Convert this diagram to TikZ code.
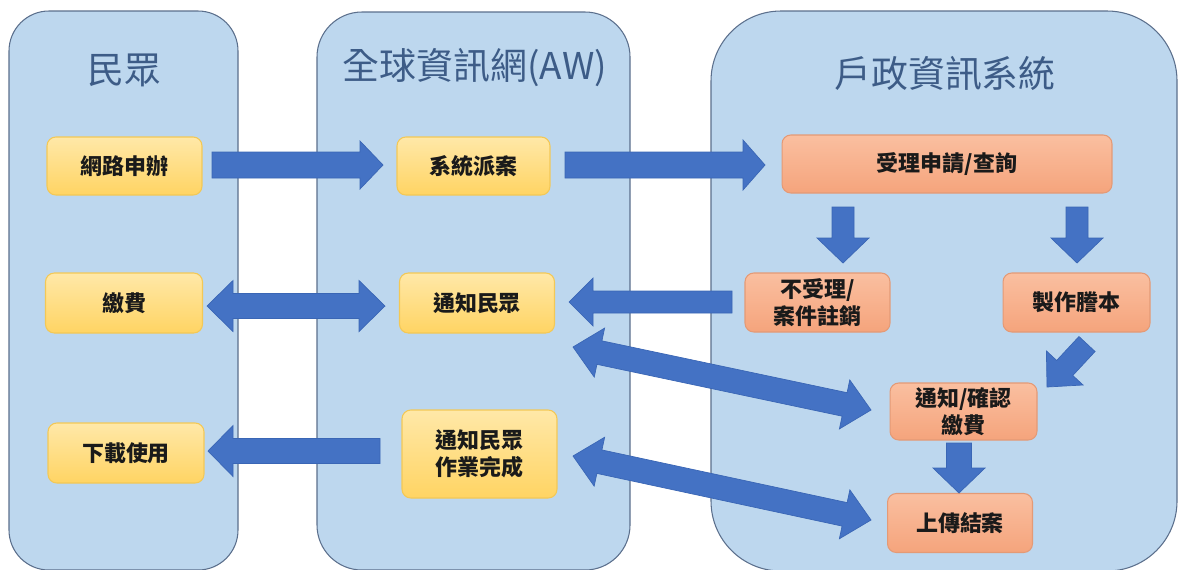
\documentclass[tikz,border=0pt]{standalone}
\usepackage{fontspec}
\newfontfamily\cjk{Noto Sans CJK TC}
\usetikzlibrary{calc,shadings}
\definecolor{lanefill}{HTML}{BDD7EE}
\definecolor{laneline}{HTML}{5B6F8C}
\definecolor{arrowblue}{HTML}{4472C4}
\definecolor{arrowline}{HTML}{3A66B5}
\definecolor{yelltop}{HTML}{FFE8A8}
\definecolor{yellbot}{HTML}{FFD463}
\definecolor{yellline}{HTML}{F3C856}
\definecolor{orgtop}{HTML}{FABFA0}
\definecolor{orgbot}{HTML}{F5A47C}
\definecolor{orgline}{HTML}{E49A76}
\definecolor{headcol}{HTML}{3D5C87}
\definecolor{txtcol}{HTML}{1A1A1A}

\newcommand{\singlearrow}[5]{%
  \coordinate (hb) at ($(#2)!#5*0.02cm!(#1)$);
  \filldraw[bigarrow] ($(#1)!#3*0.02cm!90:(#2)$) -- ($(hb)!#3*0.02cm!90:(#2)$)
    -- ($(hb)!#4*0.02cm!90:(#2)$) -- (#2) -- ($(hb)!#4*0.02cm!-90:(#2)$)
    -- ($(hb)!#3*0.02cm!-90:(#2)$) -- ($(#1)!#3*0.02cm!-90:(#2)$) -- cycle;
}
\newcommand{\doublearrow}[5]{%
  \coordinate (ha) at ($(#1)!#5*0.02cm!(#2)$);
  \coordinate (hb) at ($(#2)!#5*0.02cm!(#1)$);
  \filldraw[bigarrow] (#1) -- ($(ha)!#4*0.02cm!90:(#2)$) -- ($(ha)!#3*0.02cm!90:(#2)$)
    -- ($(hb)!#3*0.02cm!-90:(#1)$) -- ($(hb)!#4*0.02cm!-90:(#1)$) -- (#2)
    -- ($(hb)!#4*0.02cm!90:(#1)$) -- ($(hb)!#3*0.02cm!90:(#1)$)
    -- ($(ha)!#3*0.02cm!-90:(#2)$) -- ($(ha)!#4*0.02cm!-90:(#2)$) -- cycle;
}

\tikzset{
  lane/.style={fill=lanefill, draw=laneline, line width=0.6pt},
  head/.style={text=headcol, font=\cjk\fontsize{21}{25}\selectfont, inner sep=0pt},
  boxbase/.style={rounded corners=5pt, line width=0.6pt, text=txtcol, align=center,
    font=\cjk\bfseries\fontsize{12.5}{15.5}\selectfont, inner sep=0pt},
  ybox/.style={boxbase, top color=yelltop, bottom color=yellbot, draw=yellline},
  obox/.style={boxbase, top color=orgtop, bottom color=orgbot, draw=orgline},
  bigarrow/.style={fill=arrowblue, draw=arrowline, line width=0.4pt, line join=miter},
}

\begin{document}
\begin{tikzpicture}[x=0.02cm, y=-0.02cm]
\useasboundingbox (0,0) rectangle (1179,569);
\clip (0,0) rectangle (1179,569);
\fill[white] (0,0) rectangle (1179,569);

% lanes
\draw[lane, rounded corners=0.8cm] (9,11) rectangle (238,570);
\draw[lane, rounded corners=0.9cm] (317,12) rectangle (630,570);
\draw[lane, rounded corners=1.4cm] (711,11) rectangle (1177,571);

% headers
\node[head] (h1) at (124,70) {民眾};
\node[head] (h2) at (475,68) {全球資訊網(AW)};
\node[head] (h3) at (945,73) {戶政資訊系統};

% boxes
\node[ybox, minimum width=3.10cm, minimum height=1.16cm] (n1) at (124.5,166) {網路申辦};
\node[ybox, minimum width=3.06cm, minimum height=1.16cm] (n2) at (473.5,166) {系統派案};
\node[obox, minimum width=6.60cm, minimum height=1.16cm] (n3) at (947,164) {受理申請/查詢};
\node[obox, minimum width=2.90cm, minimum height=1.18cm] (n4) at (817.5,302.5) {不受理/\\案件註銷};
\node[obox, minimum width=2.94cm, minimum height=1.18cm] (n5) at (1076.5,302.5) {製作謄本};
\node[ybox, minimum width=3.14cm, minimum height=1.20cm] (n6) at (124,303) {繳費};
\node[ybox, minimum width=3.10cm, minimum height=1.20cm] (n7) at (477,303) {通知民眾};
\node[ybox, minimum width=3.12cm, minimum height=1.20cm] (n8) at (126,453) {下載使用};
\node[ybox, minimum width=3.10cm, minimum height=1.76cm] (n9) at (479.5,454) {通知民眾\\作業完成};
\node[obox, minimum width=2.94cm, minimum height=1.14cm] (n10) at (963.5,411.5) {通知/確認\\繳費};
\node[obox, minimum width=2.90cm, minimum height=1.18cm] (n11) at (960,523) {上傳結案};

% arrow end points
\coordinate (a1s) at (212,165);  \coordinate (a1e) at (383,165);
\coordinate (a2s) at (565,165);  \coordinate (a2e) at (765,165);
\coordinate (a3s) at (843,207);  \coordinate (a3e) at (843,263);
\coordinate (a4s) at (1077,207); \coordinate (a4e) at (1077,263);
\coordinate (a5s) at (732,302);  \coordinate (a5e) at (569,302);
\coordinate (a6s) at (207,306);  \coordinate (a6e) at (385,306);
\coordinate (a7s) at (380,451);  \coordinate (a7e) at (208,451);
\coordinate (a8s) at (1087,344); \coordinate (a8e) at (1047,387);
\coordinate (a9s) at (573,347);  \coordinate (a9e) at (871,410);
\coordinate (a10s) at (573,456); \coordinate (a10e) at (871,520);
\coordinate (a11s) at (959,443); \coordinate (a11e) at (959,493);

\singlearrow{a1s}{a1e}{13}{24}{23}
\singlearrow{a2s}{a2e}{13}{25}{22}
\singlearrow{a3s}{a3e}{11}{26}{25}
\singlearrow{a4s}{a4e}{11}{26}{25}
\singlearrow{a5s}{a5e}{11}{24}{24}
\doublearrow{a6s}{a6e}{12.5}{25.5}{26}
\singlearrow{a7s}{a7e}{12.5}{25.5}{25}
\singlearrow{a8s}{a8e}{11}{25}{26}
\doublearrow{a9s}{a9e}{12}{25}{27}
\doublearrow{a10s}{a10e}{12}{25}{27}
\singlearrow{a11s}{a11e}{12.5}{26}{25}
\end{tikzpicture}
\end{document}
